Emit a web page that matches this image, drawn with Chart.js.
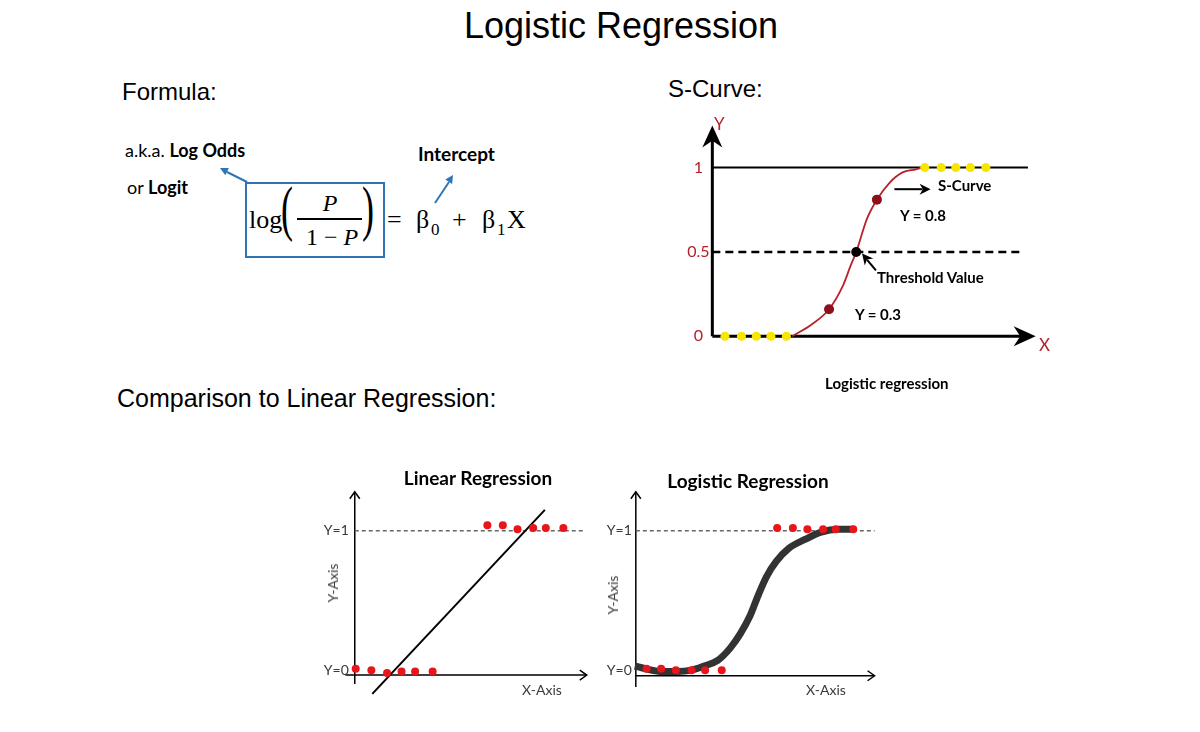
<!DOCTYPE html>
<html lang="en">
<head>
<meta charset="utf-8">
<title>Logistic Regression</title>
<script src="https://cdn.jsdelivr.net/npm/chart.js@4.4.1/dist/chart.umd.min.js"></script>
<style>
  html, body { margin: 0; padding: 0; }
  body { width: 1200px; height: 732px; position: relative; overflow: hidden; background: #fff; color: #000; }
  .t { position: absolute; white-space: nowrap; line-height: 1; }
  .arial { font-family: 'Liberation Sans', Arial, sans-serif; }
  .cal { font-family: Lato, 'Open Sans', sans-serif; }
  .math { font-family: 'Liberation Serif', 'DejaVu Serif', serif; }
  .b { font-weight: bold; }
  .red { color: #b3202a; }
  .grey { color: #3a3a3a; }
  .chart { position: absolute; }
  .rot { transform: translate(-50%, -50%) rotate(-90deg); }
  .ctr { transform: translateX(-50%); }
  .paren { transform-origin: 0 0; transform: scaleY(1.7); }
  #box { position: absolute; left: 245px; top: 182px; width: 136px; height: 72px; border: 2px solid #2e75b6; }
  #bar { position: absolute; left: 297px; top: 218px; width: 65px; height: 1.5px; background: #000; }
</style>
</head>
<body>

<!-- headings -->
<div class="t arial ctr" style="left:621px;top:8px;font-size:36px">Logistic Regression</div>
<div class="t arial" style="left:122px;top:80px;font-size:24px">Formula:</div>
<div class="t arial" style="left:668px;top:77px;font-size:24px">S-Curve:</div>
<div class="t arial" style="left:117px;top:386px;font-size:25px">Comparison to Linear Regression:</div>

<!-- formula -->
<div class="t cal" style="left:125px;top:141px;font-size:18px">a.k.a. <span class="b">Log Odds</span></div>
<div class="t cal" style="left:127px;top:178px;font-size:18px">or <span class="b">Logit</span></div>
<div class="t cal b" style="left:418px;top:144px;font-size:19px">Intercept</div>
<div id="box"></div>
<div id="bar"></div>
<div class="t math" style="left:249px;top:207px;font-size:26px">log</div>
<div class="t math paren" style="left:281px;top:178px;font-size:36px">(</div>
<div class="t math paren" style="left:362px;top:178px;font-size:36px">)</div>
<div class="t math ctr" style="left:330px;top:191px;font-size:24px"><i>P</i></div>
<div class="t math ctr" style="left:332px;top:225px;font-size:24px">1 − <i>P</i></div>
<div class="t math" style="left:387px;top:207px;font-size:26px">=</div>
<div class="t math" style="left:416px;top:207px;font-size:26px">β</div>
<div class="t math" style="left:431px;top:221px;font-size:17px">0</div>
<div class="t math" style="left:452px;top:207px;font-size:26px">+</div>
<div class="t math" style="left:482px;top:207px;font-size:26px">β</div>
<div class="t math" style="left:497px;top:221px;font-size:17px">1</div>
<div class="t math" style="left:507px;top:207px;font-size:26px">X</div>
<svg width="1200" height="732" style="position:absolute;left:0;top:0">
  <g stroke="#2e75b6" stroke-width="2" fill="#2e75b6">
    <line x1="247" y1="182" x2="227" y2="172"/>
    <polygon points="220,168 228.9,168.1 225.3,175.3" stroke="none"/>
    <line x1="435" y1="203" x2="449" y2="182"/>
    <polygon points="453,175 452.1,183.9 445.3,179.5" stroke="none"/>
  </g>
</svg>

<!-- S-curve panel -->
<div class="chart" style="left:675px;top:112px;width:398px;height:263px"><canvas id="sCurve"></canvas></div>
<div class="t cal red" style="left:714px;top:115px;font-size:17px">Y</div>
<div class="t cal red" style="left:1039px;top:336px;font-size:17px">X</div>
<div class="t cal b" style="left:938px;top:178px;font-size:15px">S-Curve</div>
<div class="t cal b" style="left:900px;top:208px;font-size:15px">Y = 0.8</div>
<div class="t cal b" style="left:877px;top:270px;font-size:15px">Threshold Value</div>
<div class="t cal b" style="left:855px;top:307px;font-size:15px">Y = 0.3</div>
<div class="t cal b" style="left:825px;top:376px;font-size:15px">Logistic regression</div>

<!-- comparison panels -->
<div class="chart" style="left:304px;top:471px;width:312px;height:245px"><canvas id="linChart"></canvas></div>
<div class="chart" style="left:585px;top:471px;width:324px;height:245px"><canvas id="logChart"></canvas></div>
<div class="t cal b ctr" style="left:478px;top:468px;font-size:19px">Linear Regression</div>
<div class="t cal b ctr" style="left:748px;top:471px;font-size:19px">Logistic Regression</div>
<div class="t cal grey rot" style="left:333px;top:583px;font-size:14px">Y-Axis</div>
<div class="t cal grey rot" style="left:613px;top:595px;font-size:14px">Y-Axis</div>
<div class="t cal grey" style="left:522px;top:683px;font-size:14px">X-Axis</div>
<div class="t cal grey" style="left:806px;top:683px;font-size:14px">X-Axis</div>

<script>
// S-curve panel
const sTickValues = [0, 0.5, 1];
const sTickLabels = ['0', '0.5', '1'];
const sCurveX = [2.47, 3.07, 3.61, 4.04, 4.28, 4.45, 4.79, 5.09, 5.48, 5.87, 6.30, 6.48];
const sCurveY = [0, 0.07, 0.16, 0.30, 0.42, 0.50, 0.70, 0.81, 0.91, 0.97, 0.99, 1];
const sLowX = [0.39, 0.90, 1.36, 1.81, 2.29];
const sHighX = [6.57, 7.08, 7.53, 7.98, 8.46];
const sMarkedX = [3.61, 5.09];   // "Y = 0.3" and "Y = 0.8"
const sMarkedY = [0.16, 0.81];
const sThresholdX = [4.45];
const sThresholdY = [0.5];
const sLineX = [0, 9.76];        // y = 1 line
const sDashX = [0, 9.6];         // y = 0.5 dashed line

// comparison panels
const yTickValues = [0, 1];
const yTickLabels = ['Y=0', 'Y=1'];

const linLowX = [0.04, 0.71, 1.38, 2.0, 2.58, 3.33];
const linLowY = [0.01, 0, -0.02, -0.01, -0.01, -0.01];
const linHighX = [5.67, 6.33, 6.96, 7.63, 8.17, 8.92];
const linHighY = [1.04, 1.04, 1.01, 1.02, 1.02, 1.02];
const linFitX = [0.75, 8.13];
const linFitY = [-0.17, 1.15];
const linDashX = [0, 9.8];

const logLowX = [0.46, 1.08, 1.71, 2.38, 2.96, 3.67];
const logLowY = [0.01, 0.01, 0, 0, 0, 0];
const logHighX = [6.04, 6.71, 7.33, 8.0, 8.54, 9.29];
const logHighY = [1.02, 1.02, 1.01, 1.01, 1.01, 1.01];
const logFitX = [-0.04, 0.42, 1.13, 1.75, 2.38, 2.92, 3.5, 4.04, 4.46, 4.88, 5.21, 5.58, 6.0, 6.54, 7.25, 7.92, 8.63, 9.33];
const logFitY = [0.03, 0.01, -0.01, -0.01, 0, 0.03, 0.07, 0.16, 0.26, 0.39, 0.53, 0.67, 0.78, 0.875, 0.94, 0.99, 1.01, 1.01];
const logDashX = [0, 10.2];

const pts = (xs, ys) => xs.map((x, i) => ({ x, y: Array.isArray(ys) ? ys[i] : ys }));

function drawHead(ctx, tx, ty, ang, len, half, style) {
    const c = Math.cos(ang), s = Math.sin(ang);
    const bx = tx - c * len, by = ty - s * len;
    ctx.beginPath();
    ctx.moveTo(bx - s * half, by + c * half);
    ctx.lineTo(tx, ty);
    ctx.lineTo(bx + s * half, by - c * half);
    if (style === 'open') { ctx.stroke(); return; }
    if (style === 'notch') ctx.lineTo(tx - c * len * 0.7, ty - s * len * 0.7);
    ctx.closePath();
    ctx.fill();
}

// axes with arrow heads, tick labels and pointer arrows
const arrowAxes = {
    id: 'arrowAxes',
    beforeDatasetsDraw(chart, args, o) {
        const { ctx, scales: { x, y } } = chart;
        const ax = x.getPixelForValue(0), ay = y.getPixelForValue(o.xAxisAt);
        const xTip = x.getPixelForValue(o.xTo), yTip = y.getPixelForValue(o.yTo);
        const back = o.head === 'open' ? 0 : o.headLen * 0.6;
        ctx.save();
        ctx.strokeStyle = ctx.fillStyle = '#000';
        ctx.lineWidth = o.width;
        ctx.beginPath();
        ctx.moveTo(x.getPixelForValue(o.xFrom), ay);
        ctx.lineTo(xTip - back, ay);
        ctx.moveTo(ax, y.getPixelForValue(o.yFrom));
        ctx.lineTo(ax, yTip + back);
        ctx.stroke();
        drawHead(ctx, xTip, ay, 0, o.headLen, o.headHalf, o.head);
        drawHead(ctx, ax, yTip, -Math.PI / 2, o.headLen, o.headHalf, o.head);

        ctx.font = o.tickFont;
        ctx.fillStyle = o.tickColor;
        ctx.textAlign = o.tickAlign;
        ctx.textBaseline = 'middle';
        o.ticks.forEach((v, i) => ctx.fillText(o.labels[i], ax - o.tickOffset, y.getPixelForValue(v)));
        ctx.restore();
    },
    afterDatasetsDraw(chart, args, o) {
        const { ctx, scales: { x, y } } = chart;
        ctx.save();
        ctx.strokeStyle = ctx.fillStyle = '#000';
        ctx.lineWidth = 2;
        (o.pointers || []).forEach(p => {
            const x1 = x.getPixelForValue(p.from[0]), y1 = y.getPixelForValue(p.from[1]);
            const x2 = x.getPixelForValue(p.to[0]), y2 = y.getPixelForValue(p.to[1]);
            const ang = Math.atan2(y2 - y1, x2 - x1);
            ctx.beginPath();
            ctx.moveTo(x1, y1);
            ctx.lineTo(x2 - Math.cos(ang) * 8, y2 - Math.sin(ang) * 8);
            ctx.stroke();
            drawHead(ctx, x2, y2, ang, 11, 5.5, 'notch');
        });
        ctx.restore();
    }
};

function panel(id, xRange, yRange, datasets, axes) {
    return new Chart(document.getElementById(id), {
        type: 'scatter',
        data: { datasets },
        options: {
            responsive: true,
            maintainAspectRatio: false,
            animation: false,
            events: [],
            layout: { padding: 0 },
            plugins: { legend: { display: false }, tooltip: { enabled: false }, arrowAxes: axes },
            scales: {
                x: { type: 'linear', min: xRange[0], max: xRange[1], display: false },
                y: { type: 'linear', min: yRange[0], max: yRange[1], display: false }
            }
        },
        plugins: [arrowAxes]
    });
}

const dots = (data, color, r) => ({ data, pointRadius: r, pointBackgroundColor: color, pointBorderColor: color, pointBorderWidth: 0, clip: false });
const line = (data, color, w, extra) => Object.assign({ data, showLine: true, borderColor: color, borderWidth: w, pointRadius: 0, clip: false }, extra);

// 1. S-curve
panel('sCurve', [-1, 11], [-0.2, 1.3], [
    dots(pts(sThresholdX, sThresholdY), '#000', 5),
    dots(pts(sMarkedX, sMarkedY), '#8e0f1c', 5),
    dots(pts(sLowX, 0).concat(pts(sHighX, 1)), '#f6e600', 4.5),
    line(pts(sCurveX, sCurveY), '#b8232b', 1.8, { cubicInterpolationMode: 'monotone' }),
    line(pts(sDashX, 0.5), '#000', 2.5, { borderDash: [8, 5] }),
    line(pts(sLineX, 1), '#000', 2)
], {
    xAxisAt: 0, xFrom: 0, xTo: 10.0, yFrom: 0, yTo: 1.25,
    width: 3, head: 'notch', headLen: 22, headHalf: 10,
    ticks: sTickValues, labels: sTickLabels,
    tickFont: '16px Lato', tickColor: '#b3202a', tickAlign: 'center', tickOffset: 14,
    pointers: [
        { from: [5.63, 0.872], to: [6.75, 0.872] },
        { from: [5.06, 0.39], to: [4.63, 0.49] }
    ]
});

// 2. Linear regression
panel('linChart', [-2, 11], [-0.3, 1.4], [
    dots(pts(linLowX, linLowY).concat(pts(linHighX, linHighY)), '#e8151b', 4),
    line(pts(linFitX, linFitY), '#000', 2),
    line(pts(linDashX, 1), '#666', 1.3, { borderDash: [4, 3] })
], {
    xAxisAt: -0.035, xFrom: -0.4, xTo: 9.92, yFrom: -0.1, yTo: 1.28,
    width: 1.5, head: 'open', headLen: 7, headHalf: 5,
    ticks: yTickValues, labels: yTickLabels,
    tickFont: '14px Lato', tickColor: '#3a3a3a', tickAlign: 'right', tickOffset: 6
});

// 3. Logistic regression
panel('logChart', [-2, 11.5], [-0.3, 1.4], [
    dots(pts(logLowX, logLowY).concat(pts(logHighX, logHighY)), '#e8151b', 4),
    line(pts(logFitX, logFitY), '#333', 7, { cubicInterpolationMode: 'monotone' }),
    line(pts(logDashX, 1), '#666', 1.3, { borderDash: [4, 3] })
], {
    xAxisAt: -0.04, xFrom: 0, xTo: 10.2, yFrom: -0.12, yTo: 1.28,
    width: 1.5, head: 'open', headLen: 7, headHalf: 5,
    ticks: yTickValues, labels: yTickLabels,
    tickFont: '14px Lato', tickColor: '#3a3a3a', tickAlign: 'right', tickOffset: 4
});
</script>
</body>
</html>
